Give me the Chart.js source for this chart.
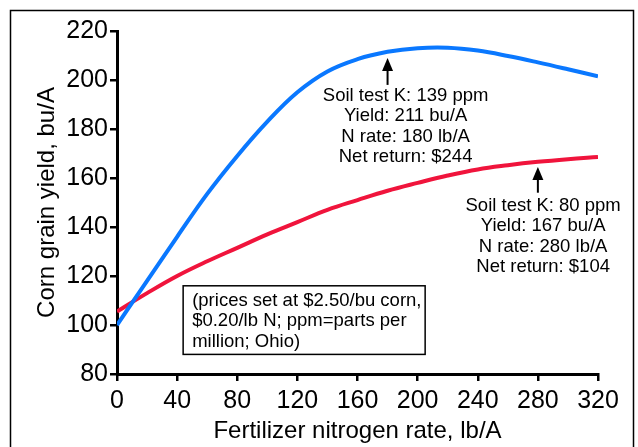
<!DOCTYPE html>
<html>
<head>
<meta charset="utf-8">
<script src="https://cdn.jsdelivr.net/npm/chart.js@4"></script>
<style>
  html, body { margin: 0; padding: 0; background: #fff; }
  #wrap { width: 638px; height: 447px; position: relative; }
</style>
</head>
<body>
<div id="wrap"><canvas id="chart" width="638" height="447"></canvas></div>
<script>
// N rates, lb/A
var nRates = [0, 20, 40, 60, 80, 100, 120, 140, 160, 180, 200, 220, 240, 260, 280, 300, 320];
// yield, bu/A
var yieldK139 = [100, 118, 136, 153.5, 169, 183, 195, 203.5, 208.5, 211.5, 213, 213.2, 212, 209.8, 207.2, 204.4, 201.5];
var yieldK80  = [105.5, 113, 120, 126, 131.5, 137, 142, 147, 151, 154.8, 158, 161, 163.5, 165.2, 166.6, 167.7, 168.6];

var xTicks = [0, 40, 80, 120, 160, 200, 240, 280, 320];
var yTicks = [80, 100, 120, 140, 160, 180, 200, 220];

var labelK139 = ['Soil test K: 139 ppm', 'Yield: 211 bu/A', 'N rate: 180 lb/A', 'Net return: $244'];
var labelK80  = ['Soil test K: 80 ppm', 'Yield: 167 bu/A', 'N rate: 280 lb/A', 'Net return: $104'];
var noteLines = ['(prices set at $2.50/bu corn,', '$0.20/lb N; ppm=parts per', 'million; Ohio)'];

var FONT = 'Liberation Sans, Arial, sans-serif';

function toPoints(xs, ys) {
    return xs.map(function (x, i) { return {x: x, y: ys[i]}; });
}

// frame round the whole figure
var framePlugin = {
    id: 'frame',
    beforeDraw: function (chart) {
        var ctx = chart.ctx;
        ctx.save();
        ctx.fillStyle = '#fff';
        ctx.fillRect(0, 0, chart.width, chart.height);
        ctx.strokeStyle = '#000';
        ctx.lineWidth = 1.5;
        ctx.strokeRect(10.5, 10.5, 623, chart.height + 10);
        ctx.restore();
    }
};

// arrows, labels and the price note, placed in data units
var notesPlugin = {
    id: 'notes',
    afterDatasetsDraw: function (chart) {
        var ctx = chart.ctx,
            xs = chart.scales.x,
            ys = chart.scales.y;

        function arrow(xv, tipY, tailY) {
            var x = xs.getPixelForValue(xv),
                y1 = ys.getPixelForValue(tipY),
                y2 = ys.getPixelForValue(tailY);
            ctx.strokeStyle = '#000';
            ctx.fillStyle = '#000';
            ctx.lineWidth = 2;
            ctx.beginPath();
            ctx.moveTo(x, y1 + 8);
            ctx.lineTo(x, y2);
            ctx.stroke();
            ctx.beginPath();
            ctx.moveTo(x, y1);
            ctx.lineTo(x - 5.5, y1 + 13);
            ctx.lineTo(x + 5.5, y1 + 13);
            ctx.closePath();
            ctx.fill();
        }

        function block(lines, xv, yv, align) {
            var x = xs.getPixelForValue(xv),
                y = ys.getPixelForValue(yv);
            ctx.fillStyle = '#000';
            ctx.font = '18.5px ' + FONT;
            ctx.textAlign = align;
            ctx.textBaseline = 'middle';
            lines.forEach(function (t, i) {
                ctx.fillText(t, x, y + i * 20.4);
            });
        }

        ctx.save();
        arrow(180, 209, 198);
        block(labelK139, 192, 193.5, 'center');
        arrow(280, 164.5, 154);
        block(labelK80, 283.5, 148.6, 'center');

        // note box
        var bx1 = xs.getPixelForValue(44), bx2 = xs.getPixelForValue(205),
            by1 = ys.getPixelForValue(116), by2 = ys.getPixelForValue(88);
        ctx.strokeStyle = '#000';
        ctx.lineWidth = 1.5;
        ctx.strokeRect(bx1, by1, bx2 - bx1, by2 - by1);
        block(noteLines, 50, 109.8, 'left');
        ctx.restore();
    }
};

var tickFont = {family: FONT, size: 25};
var titleFont = {family: FONT, size: 24};

new Chart(document.getElementById('chart'), {
    type: 'line',
    data: {
        datasets: [{
            label: 'Soil test K: 139 ppm',
            data: toPoints(nRates, yieldK139),
            borderColor: '#0A78FF',
            borderWidth: 4,
            pointRadius: 0,
            tension: 0.4,
            fill: false
        }, {
            label: 'Soil test K: 80 ppm',
            data: toPoints(nRates, yieldK80),
            borderColor: '#F0143C',
            borderWidth: 4,
            pointRadius: 0,
            tension: 0.4,
            fill: false
        }]
    },
    options: {
        responsive: false,
        animation: false,
        devicePixelRatio: 1,
        layout: {padding: {left: 0, top: 31, right: 40, bottom: 0}},
        plugins: {
            legend: {display: false},
            tooltip: {enabled: false}
        },
        scales: {
            x: {
                type: 'linear',
                min: 0,
                max: 320,
                afterFit: function (scale) { scale.height = 73; },
                afterBuildTicks: function (scale) {
                    scale.ticks = xTicks.map(function (v) { return {value: v}; });
                },
                border: {display: true, color: '#000', width: 3},
                grid: {display: true, drawOnChartArea: false, drawTicks: true,
                       tickLength: 7, tickColor: '#000', lineWidth: 2.5},
                ticks: {color: '#000', font: tickFont, padding: 5, maxRotation: 0},
                title: {display: true, text: 'Fertilizer nitrogen rate, lb/A',
                        color: '#000', font: titleFont, padding: {top: 0, bottom: 1}}
            },
            y: {
                min: 80,
                max: 220,
                afterFit: function (scale) { scale.width = 117; },
                afterBuildTicks: function (scale) {
                    scale.ticks = yTicks.map(function (v) { return {value: v}; });
                },
                border: {display: true, color: '#000', width: 3},
                grid: {display: true, drawOnChartArea: false, drawTicks: true,
                       tickLength: 7, tickColor: '#000', lineWidth: 2.5},
                ticks: {color: '#000', font: tickFont, padding: 2},
                title: {display: true, text: 'Corn grain yield, bu/A',
                        color: '#000', font: titleFont, padding: {top: 33, bottom: 0}}
            }
        }
    },
    plugins: [framePlugin, notesPlugin]
});
</script>
</body>
</html>
